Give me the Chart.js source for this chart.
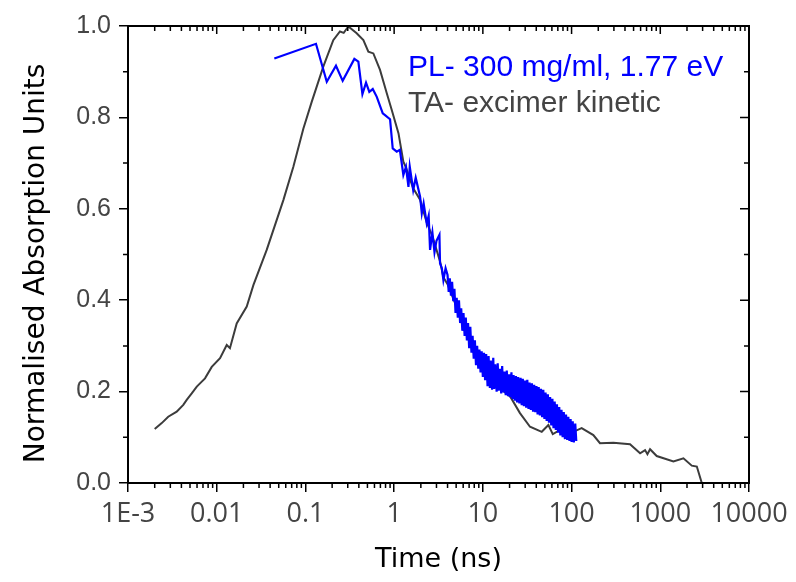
<!DOCTYPE html>
<html lang="en">
<head>
<meta charset="utf-8">
<script src="https://cdn.jsdelivr.net/npm/chart.js@4.4.0/dist/chart.umd.min.js"></script>
<style>
    html, body { margin: 0; padding: 0; background: #fff; }
</style>
</head>
<body>
<canvas id="kineticChart" width="796" height="582"></canvas>

<script>
    // PL trace, 300 mg/ml at 1.77 eV (time in ns)
    const plTime = [0.0446, 0.1315, 0.174, 0.221, 0.263, 0.356, 0.395, 0.439, 0.482, 0.525,
        0.574, 0.637, 0.744, 0.789, 0.899, 0.964, 1.07, 1.16, 1.27, 1.36,
        1.45, 1.50, 1.64, 1.75, 1.96, 2.05, 2.15, 2.33, 2.45, 2.54,
        2.70, 2.85, 3.0, 3.24, 3.29, 3.45, 3.59, 3.80,
        4.0, 4.12, 4.24, 4.37, 4.5, 4.64, 4.78, 4.92, 5.07, 5.22,
        5.38, 5.54, 5.7, 5.87, 6.05, 6.23, 6.42, 6.61, 6.81, 7.01,
        7.22, 7.44, 7.66, 7.89, 8.13, 8.37, 8.62, 8.88, 9.15, 9.42,
        9.7, 10.0, 10.3, 10.6, 10.9, 11.3, 11.6, 12.0, 12.3, 12.7,
        13.1, 13.4, 13.8, 14.3, 14.7, 15.1, 15.6, 16.1, 16.5, 17.0,
        17.5, 18.1, 18.6, 19.2, 19.8, 20.4, 21.0, 21.6, 22.2, 22.9,
        23.6, 24.3, 25.0, 25.8, 26.6, 27.4, 28.2, 29.0, 29.9, 30.8,
        31.7, 32.7, 33.6, 34.7, 35.7, 36.8, 37.9, 39.0, 40.2, 41.4,
        42.6, 43.9, 45.2, 46.6, 48.0, 49.4, 50.9, 52.4, 54.0, 55.6,
        57.3, 59.0, 60.8, 62.6, 64.5, 66.4, 68.4, 70.5, 72.6, 74.7,
        77.0, 79.3, 81.7, 84.1, 86.6, 89.2, 91.9, 94.7, 97.5, 100,
        103, 106, 110, 113];
    const plValue = [0.929, 0.961, 0.878, 0.913, 0.880, 0.928, 0.922, 0.851, 0.876, 0.856,
        0.862, 0.845, 0.809, 0.805, 0.796, 0.732, 0.725, 0.729, 0.674, 0.692,
        0.648, 0.692, 0.641, 0.668, 0.627, 0.590, 0.612, 0.568, 0.585, 0.510,
        0.548, 0.505, 0.530, 0.543, 0.481, 0.470, 0.444, 0.470,
        0.455, 0.418, 0.448, 0.410, 0.440, 0.398, 0.425, 0.372, 0.405, 0.362,
        0.400, 0.350, 0.382, 0.333, 0.372, 0.322, 0.362, 0.312, 0.350, 0.295,
        0.342, 0.285, 0.322, 0.272, 0.312, 0.258, 0.300, 0.250, 0.292, 0.242,
        0.288, 0.232, 0.285, 0.225, 0.282, 0.212, 0.278, 0.208, 0.268, 0.204,
        0.274, 0.206, 0.260, 0.200, 0.262, 0.202, 0.250, 0.196, 0.256, 0.198,
        0.244, 0.192, 0.246, 0.190, 0.238, 0.188, 0.242, 0.184, 0.236, 0.180,
        0.234, 0.176, 0.232, 0.174, 0.230, 0.170, 0.228, 0.168, 0.224, 0.165,
        0.226, 0.162, 0.220, 0.160, 0.218, 0.156, 0.215, 0.155, 0.212, 0.150,
        0.210, 0.148, 0.206, 0.144, 0.204, 0.140, 0.198, 0.136, 0.194, 0.132,
        0.188, 0.126, 0.184, 0.120, 0.178, 0.116, 0.172, 0.110, 0.166, 0.104,
        0.160, 0.100, 0.155, 0.096, 0.150, 0.094, 0.145, 0.092, 0.140, 0.090,
        0.135, 0.089, 0.130, 0.092];

    // TA excimer kinetic (1.3 - 20 ns part lies under the PL trace)
    const taTime = [0.0020, 0.0024, 0.00284, 0.00354, 0.0042, 0.00459, 0.00523, 0.00596, 0.00738, 0.00879,
        0.0109, 0.01297, 0.0141, 0.0168, 0.0218, 0.0259, 0.0366, 0.0564, 0.0731, 0.0947,
        0.1177, 0.159, 0.206, 0.245, 0.270, 0.305, 0.378, 0.45, 0.512, 0.583,
        0.693, 0.826, 0.94, 1.12, 1.27, 1.36, 1.64, 1.96, 2.33, 2.70,
        3.29, 3.59, 4.0, 5.07, 6.05, 7.01, 8.13, 10.0, 13.1, 16.1,
        20.4, 26.2, 34, 46.1, 54.8, 61.4, 74.1, 104.7, 130, 176,
        209, 296, 456, 592, 674, 716, 767, 912, 1406, 1824,
        2265, 2582, 2937];
    const taValue = [0.118, 0.131, 0.145, 0.156, 0.171, 0.182, 0.196, 0.211, 0.229, 0.254,
        0.273, 0.302, 0.295, 0.349, 0.386, 0.433, 0.510, 0.619, 0.692, 0.775,
        0.834, 0.911, 0.969, 0.988, 0.985, 0.999, 0.984, 0.969, 0.944, 0.940,
        0.904, 0.853, 0.816, 0.765, 0.703, 0.690, 0.645, 0.620, 0.570, 0.540,
        0.485, 0.450, 0.435, 0.385, 0.350, 0.310, 0.280, 0.250, 0.225, 0.205,
        0.189, 0.153, 0.123, 0.112, 0.127, 0.107, 0.116, 0.112, 0.120, 0.105,
        0.087, 0.088, 0.085, 0.065, 0.072, 0.063, 0.074, 0.059, 0.047, 0.054,
        0.038, 0.036, 0.0];

    const xTickValues = [0.001, 0.01, 0.1, 1, 10, 100, 1000, 10000];
    const xTickLabels = ['1E-3', '0.01', '0.1', '1', '10', '100', '1000', '10000'];
    const xMinorSteps = [2, 3, 4, 5, 6, 7, 8, 9];
    const yTickValues = [0, 0.2, 0.4, 0.6, 0.8, 1.0];
    const yMinorValues = [0.1, 0.3, 0.5, 0.7, 0.9];

    const toPoints = (xs, ys) => xs.map((v, i) => ({x: v, y: ys[i]}));

    // box frame plus the small ticks Origin draws
    const framePlugin = {
        id: 'frame',
        afterDraw(chart) {
            const {ctx, chartArea: a} = chart;
            const x = chart.scales.x, y = chart.scales.y;
            ctx.save();
            ctx.strokeStyle = '#000';
            ctx.lineWidth = 2;
            ctx.strokeRect(a.left, a.top, a.right - a.left, a.bottom - a.top);
            ctx.lineWidth = 1.5;
            ctx.beginPath();
            xTickValues.forEach((v, d) => {
                const px = x.getPixelForValue(v);
                ctx.moveTo(px, a.top); ctx.lineTo(px, a.top + 8);
                if (d == xTickValues.length - 1) return;
                xMinorSteps.forEach(m => {
                    const mx = x.getPixelForValue(v * m);
                    ctx.moveTo(mx, a.bottom); ctx.lineTo(mx, a.bottom + 5);
                    ctx.moveTo(mx, a.top); ctx.lineTo(mx, a.top + 5);
                });
            });
            yTickValues.forEach(v => {
                const py = y.getPixelForValue(v);
                ctx.moveTo(a.right, py); ctx.lineTo(a.right - 9, py);
            });
            yMinorValues.forEach(v => {
                const py = y.getPixelForValue(v);
                ctx.moveTo(a.left, py); ctx.lineTo(a.left - 5, py);
                ctx.moveTo(a.right, py); ctx.lineTo(a.right - 5, py);
            });
            ctx.stroke();

            // legend as coloured text inside the plot
            ctx.font = '30px "Liberation Sans", Arial, sans-serif';
            ctx.textBaseline = 'alphabetic';
            ctx.textAlign = 'left';
            chart.data.datasets.forEach((ds, i) => {
                ctx.fillStyle = ds.legendColor;
                ctx.fillText(ds.label, 408, 76 + i * 36);
            });
            ctx.restore();
        }
    };

    const ctx = document.getElementById('kineticChart');
    const myChart = new Chart(ctx, {
        type: 'line',
        data: {
            datasets: [
                {
                    label: 'PL- 300 mg/ml, 1.77 eV',
                    data: toPoints(plTime, plValue),
                    borderColor: '#0000ff',
                    legendColor: '#0000ff',
                    borderWidth: 2.2,
                    pointRadius: 0,
                    tension: 0
                },
                {
                    label: 'TA- excimer kinetic',
                    data: toPoints(taTime, taValue),
                    borderColor: '#3c3c3c',
                    legendColor: '#444444',
                    borderWidth: 2,
                    pointRadius: 0,
                    tension: 0
                }
            ]
        },
        options: {
            responsive: false,
            animation: false,
            devicePixelRatio: 1,
            layout: { padding: { top: 26, right: 47, left: 0, bottom: 0 } },
            plugins: { legend: { display: false }, tooltip: { enabled: false } },
            scales: {
                x: {
                    type: 'logarithmic',
                    min: 0.001,
                    max: 10000,
                    afterBuildTicks: s => { s.ticks = xTickValues.map(v => ({value: v})); },
                    afterFit: s => { s.height = 99; },
                    ticks: {
                        autoSkip: false,
                        maxRotation: 0,
                        padding: 6,
                        color: '#444',
                        font: { family: '"Open Sans", sans-serif', size: 27 },
                        callback: (v, i) => xTickLabels[i]
                    },
                    grid: { drawOnChartArea: false, tickLength: 9, color: '#000', lineWidth: 1.5 },
                    border: { display: false },
                    title: {
                        display: true,
                        text: 'Time (ns)',
                        color: '#000',
                        font: { family: '"DejaVu Sans", sans-serif', size: 27 },
                        padding: { top: 0, bottom: 6 }
                    }
                },
                y: {
                    type: 'linear',
                    min: 0,
                    max: 1,
                    afterBuildTicks: s => { s.ticks = yTickValues.map(v => ({value: v})); },
                    afterFit: s => { s.width = 128; },
                    ticks: {
                        padding: 8,
                        color: '#444',
                        font: { family: '"Liberation Sans", Arial, sans-serif', size: 25 },
                        callback: v => Number(v).toFixed(1)
                    },
                    grid: { drawOnChartArea: false, tickLength: 9, color: '#000', lineWidth: 1.5 },
                    border: { display: false },
                    title: {
                        display: true,
                        text: 'Normalised Absorption Units  ',
                        color: '#000',
                        font: { family: '"DejaVu Sans", sans-serif', size: 28 },
                        padding: { top: 20, bottom: 0 }
                    }
                }
            }
        },
        plugins: [framePlugin]
    });
</script>
</body>
</html>
